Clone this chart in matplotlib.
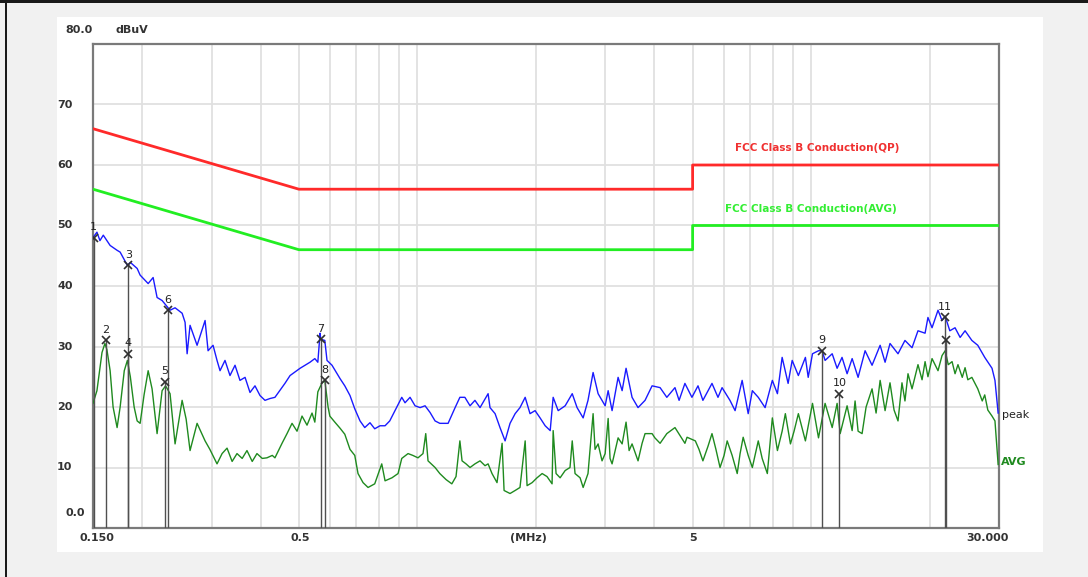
import matplotlib
matplotlib.use("Agg")
import matplotlib.pyplot as plt
from matplotlib.patches import Rectangle
import matplotlib.transforms as mtransforms

# ---------------- data ----------------
qp_limit_f = [0.15, 0.5, 5.0, 5.0, 30.0]
qp_limit_db = [66, 56, 56, 60, 60]
avg_limit_f = [0.15, 0.5, 5.0, 5.0, 30.0]
avg_limit_db = [56, 46, 46, 50, 50]

peak_f = [0.150, 0.1535, 0.1562, 0.1593, 0.1658, 0.1727, 0.1758, 0.1834, 0.1866, 0.1942,
          0.1976, 0.2071, 0.2132, 0.2182, 0.2247, 0.2354, 0.2424, 0.2526, 0.2570, 0.2601,
          0.2646, 0.2757, 0.2889, 0.2940, 0.3027, 0.3098, 0.3153, 0.3246, 0.3342, 0.3442,
          0.3543, 0.3650, 0.3757, 0.3868, 0.3983, 0.4101, 0.4222, 0.4347, 0.4608, 0.4749,
          0.5035, 0.5336, 0.5489, 0.5586, 0.5660, 0.5684, 0.5819, 0.5894, 0.6069, 0.6360,
          0.6540, 0.6742, 0.6933, 0.7150, 0.7350, 0.7578, 0.7791, 0.8037, 0.8276, 0.8507,
          0.8774, 0.9126, 0.9302, 0.9579, 0.9864, 1.0157, 1.0458, 1.0767, 1.1088, 1.140,
          1.1966, 1.2467, 1.282, 1.320, 1.3605, 1.400, 1.4424, 1.512, 1.529, 1.575,
          1.621, 1.670, 1.719, 1.771, 1.822, 1.878, 1.932, 1.990, 2.049, 2.111,
          2.174, 2.212, 2.278, 2.373, 2.473, 2.544, 2.636, 2.712, 2.794, 2.877,
          2.998, 3.051, 3.122, 3.234, 3.311, 3.388, 3.509, 3.634, 3.786, 3.945,
          4.134, 4.30, 4.51, 4.62, 4.78, 4.98, 5.16, 5.31, 5.60, 5.80,
          5.94, 6.22, 6.41, 6.68, 6.92, 7.09, 7.34, 7.64, 7.97, 8.21,
          8.44, 8.74, 8.95, 9.28, 9.67, 9.83, 10.08, 10.44, 10.66, 10.85,
          11.31, 11.64, 11.98, 12.34, 12.71, 13.16, 13.71, 14.28, 14.97, 15.41,
          15.86, 16.62, 17.31, 18.04, 18.68, 19.47, 19.8, 20.28, 21.0, 21.5,
          21.9, 22.5, 23.2, 23.9, 24.6, 25.6, 26.5, 27.6, 28.8, 29.3, 29.85]
peak_db = [48.0, 48.9, 47.5, 48.4, 46.7, 45.9, 45.6, 43.4, 43.9, 42.9,
           41.8, 40.4, 41.4, 38.1, 37.6, 36.0, 36.4, 35.5, 34.0, 28.8,
           33.5, 30.2, 34.3, 29.3, 30.2, 27.7, 26.0, 27.7, 25.2, 26.9,
           24.4, 24.9, 22.4, 23.5, 21.9, 21.1, 21.4, 21.6, 23.9, 25.2,
           26.4, 27.4, 28.0, 27.4, 32.2, 31.2, 31.0, 27.7, 26.9, 24.7,
           23.5, 21.9, 19.7, 17.7, 16.6, 17.4, 16.4, 16.9, 16.9, 17.7,
           19.4, 21.6, 20.7, 21.6, 20.2, 19.9, 20.2, 19.1, 17.7, 17.3,
           17.3, 19.9, 21.6, 21.6, 20.2, 21.1, 19.9, 22.2, 19.9, 18.9,
           16.6, 14.4, 17.3, 18.9, 19.9, 21.6, 18.9, 19.4, 18.2, 16.9,
           16.1, 21.6, 19.4, 20.2, 22.2, 19.9, 18.2, 21.1, 25.7, 22.2,
           20.2, 22.7, 19.4, 24.9, 22.7, 26.4, 21.6, 19.9, 21.1, 23.5,
           23.2, 21.6, 23.2, 21.1, 23.9, 21.6, 23.5, 21.1, 23.9, 21.6,
           23.2, 21.1, 19.4, 24.4, 18.9, 22.7, 21.6, 19.9, 24.4, 22.2,
           28.2, 23.9, 27.7, 25.2, 28.2, 24.9, 28.8, 29.3, 29.3, 27.7,
           28.8, 26.4, 28.2, 25.5, 28.0, 24.9, 29.3, 26.9, 30.2, 27.4,
           30.5, 28.8, 31.0, 29.8, 32.6, 32.2, 34.8, 33.1, 36.0, 34.3,
           35.0, 32.6, 33.1, 31.5, 32.6, 31.0, 30.2, 28.2, 26.4, 24.4, 19.0]

avg_f = [0.150, 0.1535, 0.1581, 0.1608, 0.1627, 0.1658, 0.1687, 0.1727, 0.1758, 0.1801,
         0.1834, 0.1866, 0.1908, 0.1942, 0.1976, 0.2022, 0.2071, 0.2119, 0.2182, 0.2247,
         0.2293, 0.2354, 0.2424, 0.2526, 0.2586, 0.2646, 0.2757, 0.2889, 0.2971, 0.3098,
         0.3191, 0.3285, 0.3384, 0.3482, 0.3589, 0.3691, 0.3806, 0.3913, 0.4036, 0.4148,
         0.4280, 0.4347, 0.4531, 0.4665, 0.4804, 0.4946, 0.5093, 0.5244, 0.5400, 0.5489,
         0.5586, 0.5726, 0.5819, 0.5931, 0.5992, 0.6170, 0.6360, 0.6540, 0.6742, 0.6933,
         0.7066, 0.7277, 0.7493, 0.7791, 0.8118, 0.8276, 0.8619, 0.8930, 0.9126, 0.9468,
         0.9735, 1.0035, 1.0333, 1.050, 1.0641, 1.1088, 1.140, 1.1826, 1.223, 1.2534,
         1.282, 1.2984, 1.329, 1.3605, 1.400, 1.4424, 1.485, 1.512, 1.547, 1.593,
         1.641, 1.660, 1.719, 1.771, 1.822, 1.878, 1.899, 1.956, 2.013, 2.074,
         2.134, 2.198, 2.212, 2.250, 2.304, 2.373, 2.441, 2.473, 2.514, 2.589,
         2.636, 2.712, 2.794, 2.826, 2.877, 2.944, 2.998, 3.051, 3.085, 3.122,
         3.234, 3.311, 3.388, 3.449, 3.509, 3.634, 3.721, 3.786, 3.945, 4.01,
         4.134, 4.30, 4.51, 4.78, 4.84, 5.08, 5.19, 5.31, 5.47, 5.60,
         5.73, 5.87, 6.01, 6.12, 6.30, 6.49, 6.60, 6.72, 6.92, 7.09,
         7.34, 7.51, 7.74, 7.97, 8.21, 8.44, 8.60, 8.86, 9.05, 9.28,
         9.67, 10.08, 10.44, 10.85, 11.31, 11.64, 11.85, 12.34, 12.71, 12.93,
         13.16, 13.47, 13.79, 14.28, 14.62, 14.97, 15.41, 15.86, 16.24, 16.62,
         17.01, 17.31, 17.62, 18.04, 18.68, 19.13, 19.47, 19.8, 20.28, 21.0,
         21.5, 21.9, 22.3, 22.8, 23.2, 23.6, 24.2, 24.6, 25.0, 25.6,
         26.5, 27.2, 27.6, 28.1, 28.8, 29.3, 29.85]
avg_db = [20.6, 22.7, 29.0, 30.5, 29.5, 26.0, 20.0, 16.6, 20.0, 26.0,
          27.7, 25.0, 20.0, 17.7, 17.3, 22.0, 26.0, 23.0, 15.6, 22.7,
          23.5, 22.2, 13.9, 21.1, 18.0, 12.8, 17.3, 14.4, 13.0, 10.6,
          12.3, 13.2, 11.0, 12.3, 11.5, 12.8, 11.0, 12.3, 11.5, 11.6,
          12.0, 11.6, 14.0, 15.6, 17.3, 16.0, 18.5, 17.0, 19.0, 17.5,
          22.5, 24.0, 24.4, 20.0, 18.5, 17.5, 16.5, 15.5, 13.0, 12.0,
          9.0, 7.5, 6.7, 7.3, 10.6, 7.8, 8.3, 9.0, 11.5, 12.3,
          12.0, 11.6, 12.3, 15.6, 11.1, 10.0, 9.0, 8.0, 7.3, 8.5,
          14.4, 11.1, 10.6, 10.0, 10.6, 11.1, 10.3, 10.6, 9.0, 7.5,
          14.0, 6.2, 5.7, 6.2, 6.7, 14.4, 7.0, 7.5, 8.3, 9.0,
          8.5, 7.3, 16.1, 9.0, 8.3, 9.5, 10.0, 14.4, 9.0, 8.3,
          6.7, 9.0, 18.9, 13.0, 13.9, 11.1, 12.3, 18.1, 11.5, 10.6,
          14.9, 13.9, 17.5, 12.8, 13.9, 11.1, 14.0, 15.6, 15.6, 14.9,
          14.0, 15.6, 16.6, 14.0, 15.0, 14.4, 13.0, 11.1, 13.5, 15.6,
          13.0, 10.0, 12.0, 14.4, 12.0, 9.0, 12.3, 15.0, 12.0, 10.0,
          14.4, 11.5, 9.0, 18.2, 12.8, 16.0, 18.9, 13.9, 16.0, 18.9,
          14.4, 20.6, 14.9, 20.6, 16.6, 20.6, 15.6, 20.2, 16.1, 21.0,
          16.0, 15.6, 20.0, 23.0, 19.0, 24.4, 19.4, 24.0, 19.5, 17.7,
          24.0, 21.0, 25.5, 23.0, 27.0, 24.5, 27.5, 25.0, 28.0, 26.0,
          28.5, 29.3, 27.0, 27.5, 25.5, 27.0, 24.9, 26.5, 24.5, 24.9,
          23.0, 21.0, 22.0, 19.5, 18.5, 17.7, 10.5]

marker_labels = ["1", "2", "3", "4", "5", "6", "7", "8", "9", "10", "11", "12"]
marker_f = [0.1505, 0.162, 0.1845, 0.1845, 0.228, 0.2323, 0.568, 0.582, 10.66, 11.8, 21.9, 22.0]
marker_db = [48.0, 31.0, 43.4, 28.8, 24.2, 36.0, 31.2, 24.4, 29.3, 22.2, 34.8, 31.0]

grid_f = [0.2, 0.3, 0.4, 0.5, 0.6, 0.7, 0.8, 0.9, 1, 2, 3, 4, 5, 6, 7, 8, 9, 10, 20]
grid_db = [10, 20, 30, 40, 50, 60, 70]
ytick_text = ["10", "20", "30", "40", "50", "60", "70"]
xtick_f = [0.15, 0.5, 5, 30]
xtick_text = ["0.150", "0.5", "5", "30.000"]

# ---------------- figure ----------------
W, H = 1088, 577
fig = plt.figure(figsize=(W / 100, H / 100), dpi=100)
fig.patch.set_facecolor("#f1f1f1")

# white panel and black frame edges (drawn behind the axes)
bg = fig.add_axes([0, 0, 1, 1], zorder=-10)
bg.set_xlim(0, W)
bg.set_ylim(H, 0)
bg.axis("off")
bg.add_patch(Rectangle((57, 17), 1043 - 57, 552 - 17, facecolor="white", edgecolor="none"))
bg.add_patch(Rectangle((0, 0), W, 3, facecolor="#1a1a1a", edgecolor="none"))
bg.add_patch(Rectangle((5, 0), 2, H, facecolor="#1a1a1a", edgecolor="none"))

L, R, T, B = 93, 999, 44, 528
ax = fig.add_axes([L / W, 1 - B / H, (R - L) / W, (B - T) / H], zorder=5)
ax.set_xscale("log")
ax.set_xlim(0.15, 30)
ax.set_ylim(0, 80)
ax.set_facecolor("white")

for f in grid_f:
    ax.axvline(f, color="#e0e0e0", lw=1.3, zorder=1)
for d in grid_db:
    ax.axhline(d, color="#e0e0e0", lw=1.3, zorder=1)

ax.set_xticks([])
ax.set_yticks([])
ax.minorticks_off()
for s in ax.spines.values():
    s.set_color("#7a7a7a")
    s.set_linewidth(1.6)

# limit lines
ax.plot(qp_limit_f, qp_limit_db, color="#ff2a2a", lw=2.0, zorder=3)
ax.plot(avg_limit_f, avg_limit_db, color="#22ee22", lw=2.0, zorder=3)

# traces
ax.plot(avg_f, avg_db, color="#1f8a1f", lw=1.0, zorder=4)
ax.plot(peak_f, peak_db, color="#1a1aff", lw=1.0, zorder=5)

# markers
for lab, f, d in zip(marker_labels, marker_f, marker_db):
    ax.plot([f, f], [0, d], color="#505050", lw=1.0, zorder=6)
    ax.plot(f, d, marker="x", color="#303030", ms=6, mew=1.2, zorder=7)
    if lab != "12":
        ax.annotate(lab, (f, d), xytext=(0, 4), textcoords="offset points",
                    ha="center", va="bottom", fontsize=8, color="#222222", zorder=8)

# limit labels and trace labels
fig.text(735 / W, 1 - 148 / H, "FCC Class B Conduction(QP)", color="#f03030",
         fontsize=7.5, fontweight="bold", va="center", ha="left", zorder=10)
fig.text(725 / W, 1 - 209 / H, "FCC Class B Conduction(AVG)", color="#33ee33",
         fontsize=7.5, fontweight="bold", va="center", ha="left", zorder=10)
fig.text(1002 / W, 1 - 415 / H, "peak", color="#222222", fontsize=8,
         va="center", ha="left", zorder=10)
fig.text(1001 / W, 1 - 462 / H, "AVG", color="#1f8a1f", fontsize=8,
         fontweight="bold", va="center", ha="left", zorder=10)

# y tick labels
for d, t in zip(grid_db, ytick_text):
    ypix = B - (B - T) * d / 80
    fig.text(57 / W, 1 - ypix / H, t, fontsize=8, fontweight="bold",
             color="#333333", va="center", ha="left")
fig.text(65 / W, 1 - 513 / H, "0.0", fontsize=8, fontweight="bold",
         color="#333333", va="center", ha="left")
fig.text(65 / W, 1 - 30 / H, "80.0", fontsize=8, fontweight="bold",
         color="#333333", va="center", ha="left")
fig.text(115 / W, 1 - 30 / H, "dBuV", fontsize=8, fontweight="bold",
         color="#333333", va="center", ha="left")

# x tick labels
trans = mtransforms.blended_transform_factory(ax.transData, fig.transFigure)
x_shift_pt = [3, 1, 0, -8]
for f, t, sh in zip(xtick_f, xtick_text, x_shift_pt):
    ax.annotate(t, (f, 1 - 538 / H), xycoords=trans, xytext=(sh, 0),
                textcoords="offset points", fontsize=8, fontweight="bold",
                color="#333333", va="center", ha="center", annotation_clip=False)
fig.text(528 / W, 1 - 538 / H, "(MHz)", fontsize=8, fontweight="bold",
         color="#333333", va="center", ha="center")

fig.savefig("out.png", dpi=100, facecolor=fig.get_facecolor())
